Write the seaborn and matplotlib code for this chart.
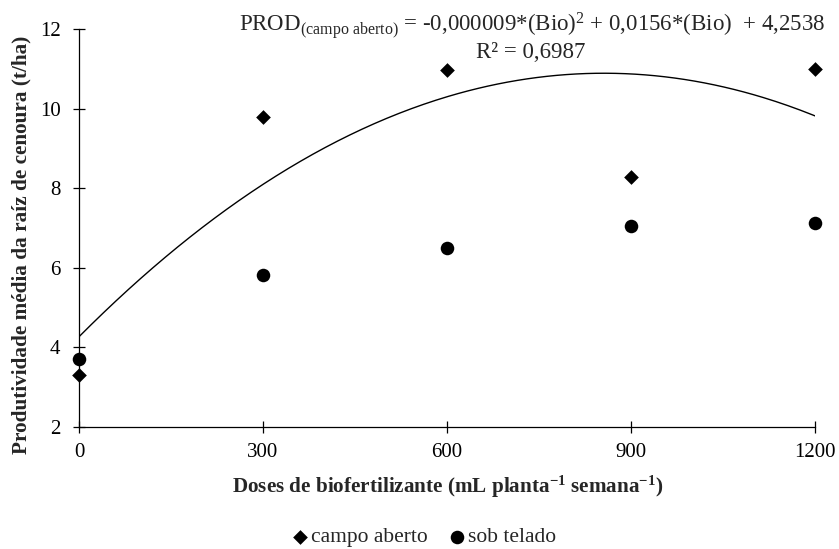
import numpy as np
import pandas as pd
import matplotlib
matplotlib.use("Agg")
import matplotlib.pyplot as plt
import seaborn as sns

doses = [0, 300, 600, 900, 1200]
campo_aberto = [3.31, 9.79, 10.97, 8.28, 11.0]
sob_telado = [3.71, 5.82, 6.5, 7.05, 7.13]
x_ticks = [0, 300, 600, 900, 1200]
y_ticks = [2, 4, 6, 8, 10, 12]

sns.set_style("ticks")
plt.rcParams['font.family'] = ['Liberation Serif', 'DejaVu Serif']
plt.rcParams['mathtext.fontset'] = 'custom'
plt.rcParams['mathtext.rm'] = 'Liberation Serif'
plt.rcParams['mathtext.it'] = 'Liberation Serif:italic'
plt.rcParams['mathtext.bf'] = 'Liberation Serif:bold'

fig = plt.figure(figsize=(8.39, 5.49), dpi=100)
ax = fig.add_axes([0.0942, 0.2222, 0.8772, 0.7250])

df_a = pd.DataFrame({"dose": doses, "prod": campo_aberto})
df_t = pd.DataFrame({"dose": doses, "prod": sob_telado})

# quadratic trend for campo aberto
coef = np.polyfit(doses, campo_aberto, 2)
xs = np.linspace(0, 1200, 300)
df_fit = pd.DataFrame({"dose": xs, "prod": np.polyval(coef, xs)})
sns.lineplot(data=df_fit, x="dose", y="prod", ax=ax, color="black", lw=1.0)

sns.scatterplot(data=df_a, x="dose", y="prod", ax=ax, marker="D", s=56,
                color="black", linewidth=0, label="campo aberto", zorder=5, clip_on=False)
sns.scatterplot(data=df_t, x="dose", y="prod", ax=ax, marker="o", s=95,
                color="black", linewidth=0, label="sob telado", zorder=5, clip_on=False)

ax.set_xlim(0, 1200)
ax.set_ylim(2, 12)
ax.set_xticks(x_ticks)
ax.set_yticks(y_ticks)
ax.tick_params(axis="both", labelsize=15, direction="inout", length=8.6, width=0.9,
               colors="black")
ax.tick_params(axis="x", pad=7.5)
ax.tick_params(axis="y", pad=9)
for side in ["top", "right"]:
    ax.spines[side].set_visible(False)
for side in ["left", "bottom"]:
    ax.spines[side].set_linewidth(0.9)
    ax.spines[side].set_color("black")

ax.set_xlabel("Doses de biofertilizante (mL planta$^{\\mathbf{-1}}$ semana$^{\\mathbf{-1}}$)",
              fontsize=15.2, fontweight="bold")
ax.set_ylabel("Produtividade média da raíz de cenoura (t/ha)", fontsize=15.3,
              fontweight="bold")
ax.xaxis.set_label_coords(0.5007, -0.118)
ax.yaxis.set_label_coords(-0.065, 0.457)

fig.text(532 / 839, 1 - 25 / 549,
         "PROD$_{\\mathrm{(campo\\ aberto)}}$ = -0,000009*(Bio)$^{2}$ + 0,0156*(Bio)  + 4,2538",
         ha="center", va="center", fontsize=16.5)
fig.text(531 / 839, 1 - 52 / 549, "R² = 0,6987", ha="center", va="center", fontsize=16.5)

leg = ax.legend(loc="center", bbox_to_anchor=(0.470, -0.277), ncol=2, frameon=False,
                fontsize=15.5, handlelength=0.6, handletextpad=0.2, columnspacing=1.05,
                borderpad=0, borderaxespad=0)

fig.savefig("out.png", dpi=100)
